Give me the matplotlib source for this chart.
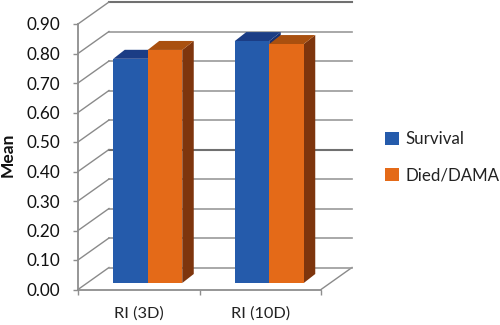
import matplotlib
matplotlib.use("Agg")
import matplotlib.pyplot as plt
from matplotlib.patches import Polygon, Patch
import numpy as np

plt.rcParams['font.family'] = ['Lato', 'DejaVu Sans']

categories = ["RI (3D)", "RI (10D)"]
series_names = ["Survival", "Died/DAMA"]
survival = [0.76, 0.82]
died = [0.79, 0.81]
y_ticks = [0.0, 0.1, 0.2, 0.3, 0.4, 0.5, 0.6, 0.7, 0.8, 0.9]
dark_gridlines = [0.4, 0.9]

W, H = 500, 325
L, R, T, B = 78, 321, 24, 289.5
fig = plt.figure(figsize=(W / 100, H / 100), dpi=100)
ax = fig.add_axes([L / W, 1 - B / H, (R - L) / W, (B - T) / H])
ax.set_xlim(-0.5, 1.5)
ax.set_ylim(0, 0.9)
ax.patch.set_alpha(0)

px = (R - L) / 2.0          # pixels per category
py = (B - T) / 0.9          # pixels per unit of value
GREY = "#8e8e8e"

# wall depth
wdx, wdy = 31 / px, 22 / py
xl, xr = -0.5, 1.5
for t in y_ticks:
    dark = t in dark_gridlines
    if t > 0:
        ax.plot([xl + wdx, xr + wdx], [t + wdy, t + wdy], color="#707070" if dark else "#999999",
                lw=1.5 if dark else 1.2, clip_on=False, zorder=1)
    ax.plot([xl, xl + wdx], [t, t + wdy], color="#8a8a8a", lw=1.0, clip_on=False, zorder=1)
ax.plot([xr, xr + wdx], [0, wdy], color="#8a8a8a", lw=1.0, clip_on=False, zorder=1)
ax.plot([xl + wdx, xr + wdx], [wdy, wdy], color="#999999", lw=1.2, clip_on=False, zorder=1)

# bars
width = 34.5 / px
shift = 9 / px
base = 6.5 / py
ddx, ddy = 11.5 / px, 9 / py
x = np.arange(len(categories))
for off, vals, front, top, side in [
    (-width / 2, survival, "#255BAB", "#1B3D85", "#173070"),
    (width / 2, died, "#E46A18", "#A9500F", "#7E350D"),
]:
    for xi, v in zip(x, vals):
        x0 = xi + shift + off - width / 2
        x1 = x0 + width
        y1 = base + v
        ax.add_patch(Polygon([[x1, base], [x1 + ddx, base + ddy], [x1 + ddx, y1 + ddy], [x1, y1]],
                             fc=side, ec="none", clip_on=False, zorder=3))
        ax.add_patch(Polygon([[x0, y1], [x0 + ddx, y1 + ddy], [x1 + ddx, y1 + ddy], [x1, y1]],
                             fc=top, ec="none", clip_on=False, zorder=3))
    ax.bar(x + shift + off, vals, width, bottom=base, color=front, clip_on=False, zorder=4)

# axes
for s in ("top", "right"):
    ax.spines[s].set_visible(False)
for s in ("left", "bottom"):
    ax.spines[s].set_color(GREY)
    ax.spines[s].set_linewidth(1.3)
    ax.spines[s].set_zorder(5)
ax.set_yticks(y_ticks)
ax.set_yticklabels([f"{t:.2f}" for t in y_ticks], fontsize=12.3, color="#111111")
ax.set_xticks([-0.5, 0.5, 1.5])
ax.set_xticklabels(["", "", ""])
ax.set_xticks([0, 1], minor=True)
ax.set_xticklabels(categories, minor=True, fontsize=11.8, color="#222222")
ax.tick_params(axis="x", which="minor", length=0, pad=12)
ax.tick_params(axis="x", which="major", length=3.5, color=GREY, width=1)
ax.tick_params(axis="y", length=3.5, color=GREY, width=1, pad=9.5)
ax.set_ylabel("Mean", fontsize=12.5, fontweight="bold", color="#111111", va="center")
ax.yaxis.set_label_coords((8 - L) / (R - L), (B - 155) / (B - T))

handles = [Patch(fc="#255BAB", label=series_names[0]), Patch(fc="#E46A18", label=series_names[1])]
fig.legend(handles=handles, loc="center left", bbox_to_anchor=(382 / W, 1 - 157.5 / H), frameon=False,
           fontsize=12.2, handlelength=0.78, handleheight=0.78, handletextpad=0.4, labelspacing=1.2,
           borderpad=0.2, borderaxespad=0, labelcolor="#222222")

fig.savefig("out.png", dpi=100)
